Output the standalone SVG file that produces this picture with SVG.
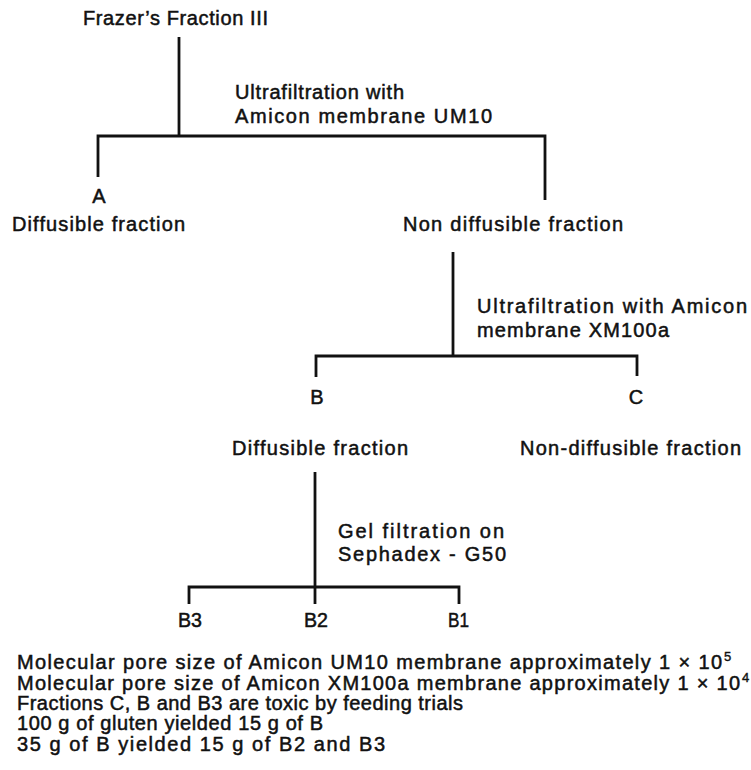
<svg xmlns="http://www.w3.org/2000/svg" width="751" height="770" viewBox="0 0 751 770">
<style>
text{font-family:"Liberation Sans",Arial,sans-serif;font-size:20px;fill:#111;stroke:#111;stroke-width:0.5;}
.sup{font-size:13px;stroke-width:0.4;}
.ln{stroke:#111;stroke-width:2.8;fill:none;stroke-linecap:butt;stroke-linejoin:miter;}
</style>
<rect width="751" height="770" fill="#fff"/>
<g id="connectors">
<path class="ln" d="M179,37 V136"/>
<path class="ln" d="M98,177 V136 H545 V200"/>
<path class="ln" d="M453,252 V356"/>
<path class="ln" d="M316,377 V356 H637 V376"/>
<path class="ln" d="M315,472 V604"/>
<path class="ln" d="M189,604 V587 H459 V604"/>
</g>
<g id="node-frazer"><text x="83" y="25" textLength="185" lengthAdjust="spacing">Frazer’s Fraction III</text></g>
<g id="label-uf1">
<text x="235" y="99" textLength="169" lengthAdjust="spacing">Ultrafiltration with</text>
<text x="235" y="123" textLength="257" lengthAdjust="spacing">Amicon membrane UM10</text>
</g>
<g id="node-A">
<text x="99" y="203" text-anchor="middle">A</text>
<text x="12" y="231" textLength="173" lengthAdjust="spacing">Diffusible fraction</text>
</g>
<g id="node-nondiff"><text x="403" y="231" textLength="220" lengthAdjust="spacing">Non diffusible fraction</text></g>
<g id="label-uf2">
<text x="477" y="313" textLength="270" lengthAdjust="spacing">Ultrafiltration with Amicon</text>
<text x="477" y="337" textLength="192" lengthAdjust="spacing">membrane XM100a</text>
</g>
<g id="node-B">
<text x="317" y="404" text-anchor="middle">B</text>
<text x="232" y="455" textLength="176" lengthAdjust="spacing">Diffusible fraction</text>
</g>
<g id="node-C">
<text x="636" y="404" text-anchor="middle">C</text>
<text x="520" y="455" textLength="221" lengthAdjust="spacing">Non-diffusible fraction</text>
</g>
<g id="label-gel">
<text x="338" y="538" textLength="166" lengthAdjust="spacing">Gel filtration on</text>
<text x="338" y="561" textLength="168" lengthAdjust="spacing">Sephadex - G50</text>
</g>
<g id="node-B3"><text x="178" y="627" textLength="24" lengthAdjust="spacingAndGlyphs">B3</text></g>
<g id="node-B2"><text x="304" y="627" textLength="24" lengthAdjust="spacingAndGlyphs">B2</text></g>
<g id="node-B1"><text x="448" y="627" textLength="21" lengthAdjust="spacingAndGlyphs">B1</text></g>
<g id="notes">
<text x="17" y="669" textLength="705" lengthAdjust="spacing">Molecular pore size of Amicon UM10 membrane approximately 1 × 10</text>
<text class="sup" x="724" y="661">5</text>
<text x="17" y="690" textLength="723" lengthAdjust="spacing">Molecular pore size of Amicon XM100a membrane approximately 1 × 10</text>
<text class="sup" x="742" y="682">4</text>
<text x="17" y="710" textLength="446" lengthAdjust="spacing">Fractions C, B and B3 are toxic by feeding trials</text>
<text x="17" y="730" textLength="306" lengthAdjust="spacing">100 g of gluten yielded 15 g of B</text>
<text x="17" y="751" textLength="368" lengthAdjust="spacing">35 g of B yielded 15 g of B2 and B3</text>
</g>
</svg>
